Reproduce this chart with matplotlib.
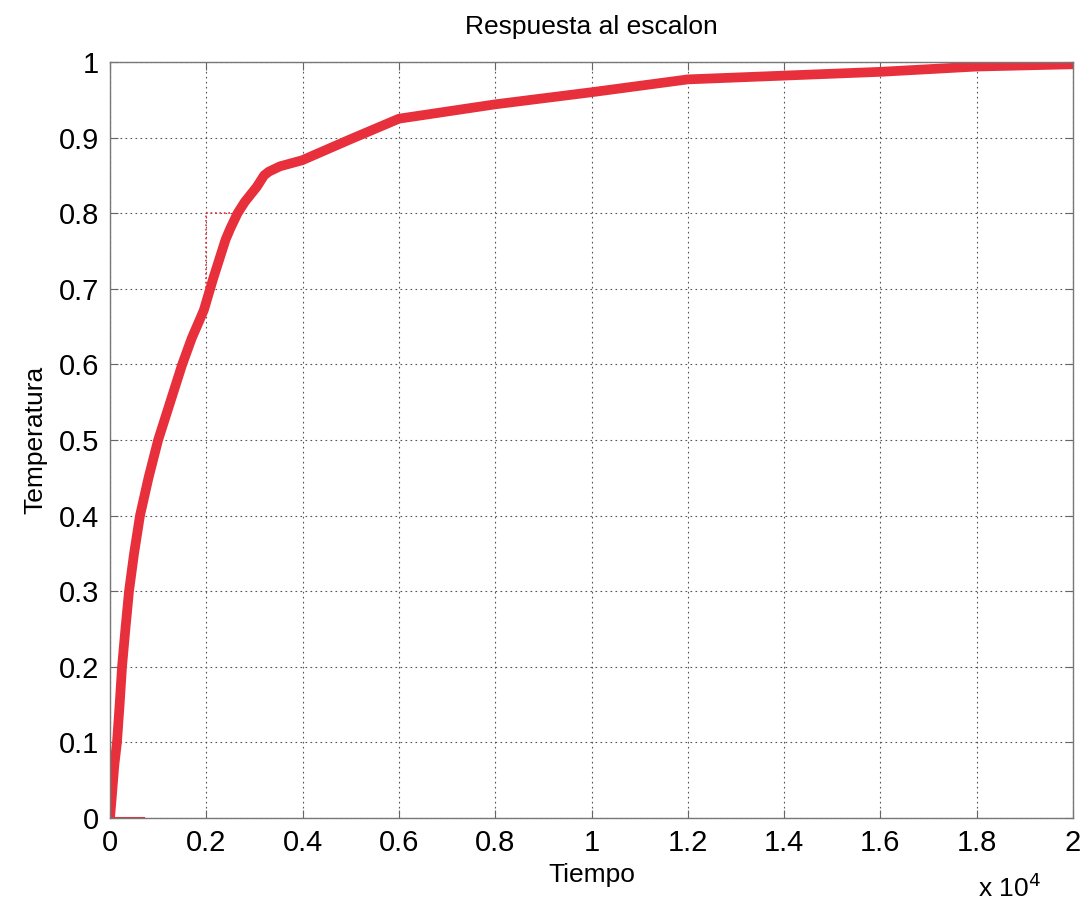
import matplotlib
matplotlib.use("Agg")
import matplotlib.pyplot as plt
import numpy as np

# respuesta al escalon
tiempo = [0, 40, 90, 145, 200, 250, 320, 395, 500, 623, 800, 1000, 1250,
          1500, 1700, 1870, 1950, 2150, 2400, 2500, 2650, 2800, 2950,
          3050, 3200, 3300, 3530, 3990, 5000, 6000, 8000, 10000, 12000,
          16000, 18000, 20000]
temperatura = [0.0, 0.03, 0.07, 0.1, 0.15, 0.2, 0.25, 0.3, 0.35, 0.4, 0.45,
               0.5, 0.55, 0.6, 0.635, 0.66, 0.672, 0.715, 0.765, 0.78,
               0.8, 0.815, 0.827, 0.835, 0.85, 0.855, 0.862, 0.87, 0.898,
               0.925, 0.944, 0.96, 0.977, 0.987, 0.994, 0.997]

# lineas de referencia (punto 0.8)
ref_t = [2000, 2000, 2650]
ref_y = [0.672, 0.8, 0.8]

plt.rcParams['font.family'] = ['Liberation Sans', 'DejaVu Sans']

fig = plt.figure(figsize=(10.83, 9.08), dpi=100)
ax = fig.add_axes([110 / 1083, 90 / 908, 963 / 1083, 756 / 908])

ax.plot(ref_t, ref_y, color="#e8303c", linestyle=":", linewidth=1.2)
ax.plot([0, 700], [0, 0], color="#e8303c", linewidth=1.5)
ax.plot(tiempo, temperatura, color="#e8303c", linewidth=7,
        solid_capstyle="round", solid_joinstyle="round")

ax.set_xlim(0, 20000)
ax.set_ylim(0, 1)
xt = np.arange(0, 20001, 2000)
ax.set_xticks(xt)
ax.set_xticklabels(["0"] + ["%g" % (v / 10000) for v in xt[1:]])
ax.set_yticks(np.arange(0, 1.01, 0.1))
ax.set_yticklabels(["0"] + ["%g" % round(v, 1) for v in np.arange(0.1, 1.01, 0.1)])

ax.grid(True, color="#555555", linestyle=(0, (1.5, 3)), linewidth=0.8)
ax.tick_params(direction="in", length=6, color="#666666", labelsize=21,
               pad=8, top=True, right=True)
for s in ax.spines.values():
    s.set_color("#777777")
    s.set_linewidth(1.0)

ax.set_title("Respuesta al escalon", fontsize=19, pad=20)
ax.set_xlabel("Tiempo", fontsize=19, labelpad=4)
ax.set_ylabel("Temperatura", fontsize=19, labelpad=8)
fig.text(978 / 1083, 1 - 888 / 908, r"x 10$^4$", fontsize=19, va="center")

fig.savefig("out.png", dpi=100, facecolor="white")
